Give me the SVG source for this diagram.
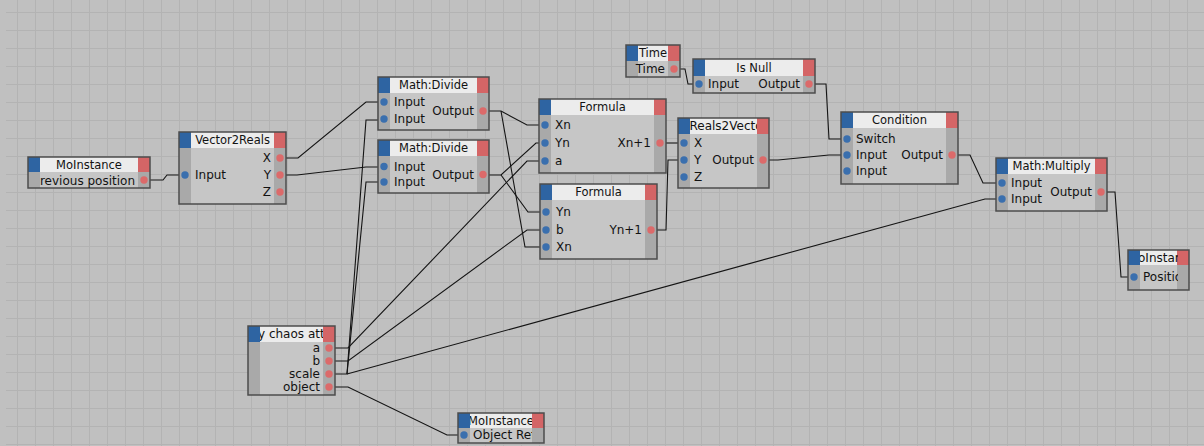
<svg xmlns="http://www.w3.org/2000/svg" width="1204" height="446" viewBox="0 0 1204 446">
  <defs>
    <pattern id="grid" x="17" y="12" width="18" height="18" patternUnits="userSpaceOnUse">
      <rect width="18" height="1" fill="#b3b3b3"/>
      <rect width="1" height="18" fill="#b3b3b3"/>
    </pattern>
    <clipPath id="cpMoLRow"><rect x="40" y="172" width="98" height="16"/></clipPath>
    <clipPath id="cpMoBHdr"><rect x="470" y="413" width="62" height="15"/></clipPath>
    <clipPath id="cpMoBRow"><rect x="470" y="428" width="62" height="15"/></clipPath>
    <clipPath id="cpPosHdr"><rect x="1140" y="250" width="38" height="15"/></clipPath>
    <clipPath id="cpPosRow"><rect x="1140" y="265" width="38" height="25"/></clipPath>
    <clipPath id="cpChaosHdr"><rect x="260" y="326" width="63" height="16"/></clipPath>
    <clipPath id="cpR2VHdr"><rect x="690" y="118" width="67" height="16"/></clipPath>
  </defs>
  <style>
    .body{fill:#c6c6c6}
    .strip{fill:#a9a9a9}
    .hdr{fill:#ececec}
    .blue{fill:#2e64a2}
    .red{fill:#d46566}
    .frame{fill:none;stroke:#4c4c4c;stroke-width:1.5}
    .pin{fill:#3a6fae}
    .pout{fill:#dc6a6a}
    text{font-family:"DejaVu Sans",Verdana,sans-serif;font-size:12px;fill:#121212}
    .title{text-anchor:middle;font-size:11.5px}
    .r{text-anchor:end}
    .wire{fill:none;stroke:#141414;stroke-width:1.1}
  </style>

  <!-- canvas -->
  <rect width="1204" height="446" fill="#c0c0c0"/>
  <rect x="6" y="0" width="1198" height="446" fill="url(#grid)"/>

  <!-- connectors -->
  <g id="connectors" class="wire">
    <path d="M150,180 H163 L167,175 H179"/>
    <path d="M286,158 H298 L366,102 H378"/>
    <path d="M286,175 H297 L366,167 H378"/>
    <path d="M335,374 H347 L366,120 H378"/>
    <path d="M347,374 L366,182 H378"/>
    <path d="M347,374 L985,199 H996"/>
    <path d="M335,348 H348 L527,161 H539"/>
    <path d="M335,361 H348 L527,230 H540"/>
    <path d="M335,387 H348 L447,435 H458"/>
    <path d="M489,111 H501 L527,125 H539"/>
    <path d="M501,111 L525,247 H540"/>
    <path d="M489,175 H501 L536,143 H539"/>
    <path d="M501,175 L528,212 H540"/>
    <path d="M666,143 H678"/>
    <path d="M657,230 H666 L668,160 H678"/>
    <path d="M680,69 H685 L688,84 H693"/>
    <path d="M815,84 H826 L829,139 H841"/>
    <path d="M769,160 H778 L829,155 H841"/>
    <path d="M958,155 H970 L983,183 H996"/>
    <path d="M1107,192 H1115 L1121,277 H1128"/>
  </g>

  <!-- MoInstance (previous position) -->
  <g id="moinstance-prev">
    <rect class="body" x="28" y="157" width="122" height="31"/>
    <rect class="strip" x="28" y="172" width="12" height="16"/>
    <rect class="strip" x="138" y="172" width="12" height="16"/>
    <rect class="hdr" x="40" y="157" width="98" height="15"/>
    <rect class="blue" x="28" y="157" width="12" height="15"/>
    <rect class="red" x="138" y="157" width="12" height="15"/>
    <rect class="frame" x="28" y="157" width="122" height="31"/>
    <text class="title" x="89" y="168.5">MoInstance</text>
    <text class="r" x="135" y="184.5" font-size="11.5" clip-path="url(#cpMoLRow)">revious position</text>
    <circle class="pout" cx="144" cy="180" r="3.7"/>
  </g>

  <!-- Vector2Reals -->
  <g id="vector2reals">
    <rect class="body" x="179" y="132" width="107" height="72"/>
    <rect class="strip" x="179" y="148" width="12" height="56"/>
    <rect class="strip" x="274" y="148" width="12" height="56"/>
    <rect class="hdr" x="191" y="132" width="83" height="16"/>
    <rect class="blue" x="179" y="132" width="12" height="16"/>
    <rect class="red" x="274" y="132" width="12" height="16"/>
    <rect class="frame" x="179" y="132" width="107" height="72"/>
    <text class="title" x="232.5" y="144">Vector2Reals</text>
    <text x="195" y="179.3">Input</text>
    <text class="r" x="271" y="162.3">X</text>
    <text class="r" x="271" y="179.3">Y</text>
    <text class="r" x="271" y="196.3">Z</text>
    <circle class="pin" cx="185" cy="175" r="3.7"/>
    <circle class="pout" cx="280" cy="158" r="3.7"/>
    <circle class="pout" cx="280" cy="175" r="3.7"/>
    <circle class="pout" cx="280" cy="192" r="3.7"/>
  </g>

  <!-- Math:Divide (X) -->
  <g id="divide-x">
    <rect class="body" x="378" y="77" width="111" height="53"/>
    <rect class="strip" x="378" y="93" width="12" height="37"/>
    <rect class="strip" x="477" y="93" width="12" height="37"/>
    <rect class="hdr" x="390" y="77" width="87" height="16"/>
    <rect class="blue" x="378" y="77" width="12" height="16"/>
    <rect class="red" x="477" y="77" width="12" height="16"/>
    <rect class="frame" x="378" y="77" width="111" height="53"/>
    <text class="title" x="433.5" y="89">Math:Divide</text>
    <text x="394" y="106.3">Input</text>
    <text x="394" y="123.3">Input</text>
    <text class="r" x="474" y="115.3">Output</text>
    <circle class="pin" cx="384" cy="102" r="3.7"/>
    <circle class="pin" cx="384" cy="119" r="3.7"/>
    <circle class="pout" cx="483" cy="111" r="3.7"/>
  </g>

  <!-- Math:Divide (Y) -->
  <g id="divide-y">
    <rect class="body" x="378" y="140" width="111" height="53"/>
    <rect class="strip" x="378" y="156" width="12" height="37"/>
    <rect class="strip" x="477" y="156" width="12" height="37"/>
    <rect class="hdr" x="390" y="140" width="87" height="16"/>
    <rect class="blue" x="378" y="140" width="12" height="16"/>
    <rect class="red" x="477" y="140" width="12" height="16"/>
    <rect class="frame" x="378" y="140" width="111" height="53"/>
    <text class="title" x="433.5" y="152">Math:Divide</text>
    <text x="394" y="170.8">Input</text>
    <text x="394" y="186.3">Input</text>
    <text class="r" x="474" y="178.8">Output</text>
    <circle class="pin" cx="384" cy="166.5" r="3.7"/>
    <circle class="pin" cx="384" cy="182" r="3.7"/>
    <circle class="pout" cx="483" cy="174.5" r="3.7"/>
  </g>

  <!-- Formula (Xn+1) -->
  <g id="formula-x">
    <rect class="body" x="539" y="99" width="127" height="74"/>
    <rect class="strip" x="539" y="115" width="12" height="58"/>
    <rect class="strip" x="654" y="115" width="12" height="58"/>
    <rect class="hdr" x="551" y="99" width="103" height="16"/>
    <rect class="blue" x="539" y="99" width="12" height="16"/>
    <rect class="red" x="654" y="99" width="12" height="16"/>
    <rect class="frame" x="539" y="99" width="127" height="74"/>
    <text class="title" x="602.5" y="111">Formula</text>
    <text x="555" y="129.3">Xn</text>
    <text x="555" y="147.3">Yn</text>
    <text x="555" y="165.3">a</text>
    <text class="r" x="651" y="147.3">Xn+1</text>
    <circle class="pin" cx="545" cy="125" r="3.7"/>
    <circle class="pin" cx="545" cy="143" r="3.7"/>
    <circle class="pin" cx="545" cy="161" r="3.7"/>
    <circle class="pout" cx="660" cy="143" r="3.7"/>
  </g>

  <!-- Formula (Yn+1) -->
  <g id="formula-y">
    <rect class="body" x="540" y="184" width="117" height="75"/>
    <rect class="strip" x="540" y="200" width="12" height="59"/>
    <rect class="strip" x="645" y="200" width="12" height="59"/>
    <rect class="hdr" x="552" y="184" width="93" height="16"/>
    <rect class="blue" x="540" y="184" width="12" height="16"/>
    <rect class="red" x="645" y="184" width="12" height="16"/>
    <rect class="frame" x="540" y="184" width="117" height="75"/>
    <text class="title" x="598.5" y="196">Formula</text>
    <text x="556" y="216.3">Yn</text>
    <text x="556" y="234.3">b</text>
    <text x="556" y="251.3">Xn</text>
    <text class="r" x="642" y="234.3">Yn+1</text>
    <circle class="pin" cx="546" cy="212" r="3.7"/>
    <circle class="pin" cx="546" cy="230" r="3.7"/>
    <circle class="pin" cx="546" cy="247" r="3.7"/>
    <circle class="pout" cx="651" cy="230" r="3.7"/>
  </g>

  <!-- Time -->
  <g id="time">
    <rect class="body" x="626" y="45" width="54" height="32"/>
    <rect class="strip" x="626" y="61" width="12" height="16"/>
    <rect class="strip" x="668" y="61" width="12" height="16"/>
    <rect class="hdr" x="638" y="45" width="30" height="16"/>
    <rect class="blue" x="626" y="45" width="12" height="16"/>
    <rect class="red" x="668" y="45" width="12" height="16"/>
    <rect class="frame" x="626" y="45" width="54" height="32"/>
    <text class="title" x="653" y="57">Time</text>
    <text class="r" x="665" y="73.3">Time</text>
    <circle class="pout" cx="674" cy="69" r="3.7"/>
  </g>

  <!-- Is Null -->
  <g id="is-null">
    <rect class="body" x="693" y="59" width="122" height="34"/>
    <rect class="strip" x="693" y="76" width="12" height="17"/>
    <rect class="strip" x="803" y="76" width="12" height="17"/>
    <rect class="hdr" x="705" y="59" width="98" height="17"/>
    <rect class="blue" x="693" y="59" width="12" height="17"/>
    <rect class="red" x="803" y="59" width="12" height="17"/>
    <rect class="frame" x="693" y="59" width="122" height="34"/>
    <text class="title" x="754" y="71.5">Is Null</text>
    <text x="708" y="88.3">Input</text>
    <text class="r" x="800" y="88.3">Output</text>
    <circle class="pin" cx="699" cy="84" r="3.7"/>
    <circle class="pout" cx="809" cy="84" r="3.7"/>
  </g>

  <!-- Reals2Vector -->
  <g id="reals2vector">
    <rect class="body" x="678" y="118" width="91" height="70"/>
    <rect class="strip" x="678" y="134" width="12" height="54"/>
    <rect class="strip" x="757" y="134" width="12" height="54"/>
    <rect class="hdr" x="690" y="118" width="67" height="16"/>
    <rect class="blue" x="678" y="118" width="12" height="16"/>
    <rect class="red" x="757" y="118" width="12" height="16"/>
    <rect class="frame" x="678" y="118" width="91" height="70"/>
    <text x="689.5" y="130" font-size="11.2" clip-path="url(#cpR2VHdr)">Reals2Vecto</text>
    <text x="694" y="147.3">X</text>
    <text x="694" y="164.3">Y</text>
    <text x="694" y="181.3">Z</text>
    <text class="r" x="754" y="164.3">Output</text>
    <circle class="pin" cx="684" cy="143" r="3.7"/>
    <circle class="pin" cx="684" cy="160" r="3.7"/>
    <circle class="pin" cx="684" cy="177" r="3.7"/>
    <circle class="pout" cx="763" cy="160" r="3.7"/>
  </g>

  <!-- Condition -->
  <g id="condition">
    <rect class="body" x="841" y="112" width="117" height="72"/>
    <rect class="strip" x="841" y="128" width="12" height="56"/>
    <rect class="strip" x="946" y="128" width="12" height="56"/>
    <rect class="hdr" x="853" y="112" width="93" height="16"/>
    <rect class="blue" x="841" y="112" width="12" height="16"/>
    <rect class="red" x="946" y="112" width="12" height="16"/>
    <rect class="frame" x="841" y="112" width="117" height="72"/>
    <text class="title" x="899.5" y="124">Condition</text>
    <text x="856" y="143.3">Switch</text>
    <text x="856" y="159.3">Input</text>
    <text x="856" y="175.3">Input</text>
    <text class="r" x="943" y="159.3">Output</text>
    <circle class="pin" cx="847" cy="139" r="3.7"/>
    <circle class="pin" cx="847" cy="155" r="3.7"/>
    <circle class="pin" cx="847" cy="171" r="3.7"/>
    <circle class="pout" cx="952" cy="155" r="3.7"/>
  </g>

  <!-- Math:Multiply -->
  <g id="multiply">
    <rect class="body" x="996" y="158" width="111" height="53"/>
    <rect class="strip" x="996" y="174" width="12" height="37"/>
    <rect class="strip" x="1095" y="174" width="12" height="37"/>
    <rect class="hdr" x="1008" y="158" width="87" height="16"/>
    <rect class="blue" x="996" y="158" width="12" height="16"/>
    <rect class="red" x="1095" y="158" width="12" height="16"/>
    <rect class="frame" x="996" y="158" width="111" height="53"/>
    <text class="title" x="1051.5" y="170">Math:Multiply</text>
    <text x="1011" y="187.3">Input</text>
    <text x="1011" y="203.3">Input</text>
    <text class="r" x="1092" y="196.3">Output</text>
    <circle class="pin" cx="1002" cy="183" r="3.7"/>
    <circle class="pin" cx="1002" cy="199" r="3.7"/>
    <circle class="pout" cx="1101" cy="192" r="3.7"/>
  </g>

  <!-- MoInstance (position) -->
  <g id="moinstance-position">
    <rect class="body" x="1128" y="250" width="61" height="40"/>
    <rect class="strip" x="1128" y="265" width="12" height="25"/>
    <rect class="strip" x="1177" y="265" width="12" height="25"/>
    <rect class="hdr" x="1140" y="250" width="37" height="15"/>
    <rect class="blue" x="1128" y="250" width="12" height="15"/>
    <rect class="red" x="1177" y="250" width="12" height="15"/>
    <rect class="frame" x="1128" y="250" width="61" height="40"/>
    <text x="1138" y="261.5" font-size="11.5" clip-path="url(#cpPosHdr)">oInstan</text>
    <text x="1143" y="281" clip-path="url(#cpPosRow)">Positio</text>
    <circle class="pin" cx="1134" cy="277" r="3.7"/>
  </g>

  <!-- chaos attractor parameters -->
  <g id="chaos-attractor">
    <rect class="body" x="248" y="326" width="87" height="69"/>
    <rect class="strip" x="248" y="342" width="12" height="53"/>
    <rect class="strip" x="323" y="342" width="12" height="53"/>
    <rect class="hdr" x="260" y="326" width="63" height="16"/>
    <rect class="blue" x="248" y="326" width="12" height="16"/>
    <rect class="red" x="323" y="326" width="12" height="16"/>
    <rect class="frame" x="248" y="326" width="87" height="69"/>
    <text x="258" y="338" font-size="11.5" clip-path="url(#cpChaosHdr)">y chaos att</text>
    <text class="r" x="320" y="352.3">a</text>
    <text class="r" x="320" y="365.3">b</text>
    <text class="r" x="320" y="378.3">scale</text>
    <text class="r" x="320" y="391">object</text>
    <circle class="pout" cx="329" cy="348" r="3.7"/>
    <circle class="pout" cx="329" cy="361" r="3.7"/>
    <circle class="pout" cx="329" cy="374" r="3.7"/>
    <circle class="pout" cx="329" cy="387" r="3.7"/>
  </g>

  <!-- MoInstance (object reference) -->
  <g id="moinstance-object">
    <rect class="body" x="458" y="413" width="86" height="30"/>
    <rect class="strip" x="458" y="428" width="12" height="15"/>
    <rect class="strip" x="532" y="428" width="12" height="15"/>
    <rect class="hdr" x="470" y="413" width="62" height="15"/>
    <rect class="blue" x="458" y="413" width="12" height="15"/>
    <rect class="red" x="532" y="413" width="12" height="15"/>
    <rect class="frame" x="458" y="413" width="86" height="30"/>
    <text class="title" x="501" y="424.5" clip-path="url(#cpMoBHdr)">MoInstance</text>
    <text x="473" y="439.3" font-size="11.6" clip-path="url(#cpMoBRow)">Object Ref</text>
    <circle class="pin" cx="464" cy="435" r="3.7"/>
  </g>
</svg>
